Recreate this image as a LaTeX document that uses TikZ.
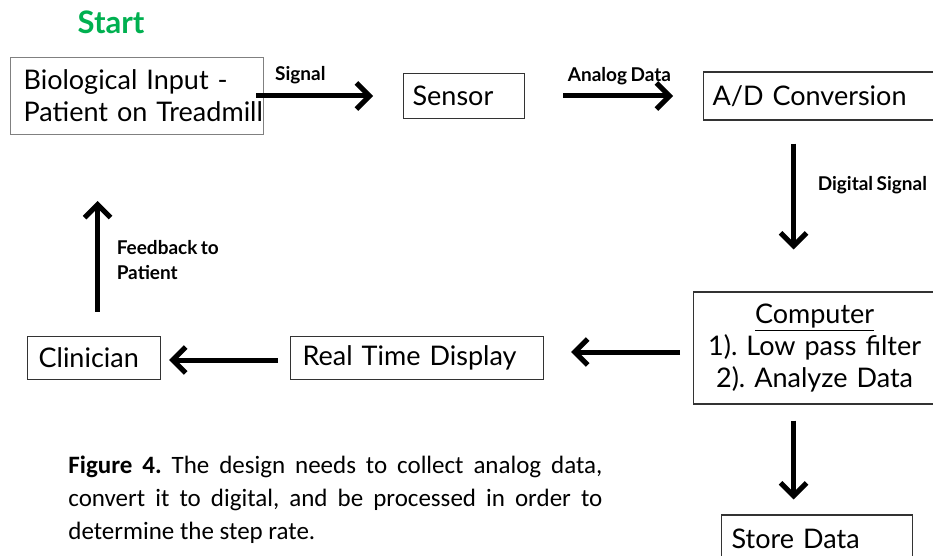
\documentclass[tikz,border=0pt]{standalone}
\usepackage{fontspec}
\setmainfont{Lato}[WordSpace=0.75]
\newfontfamily\capfont{Carlito}
\usetikzlibrary{arrows.meta,positioning}
\definecolor{startgreen}{RGB}{0,176,80}

\begin{document}
\begin{tikzpicture}[x=0.5pt,y=-0.5pt,
  box/.style={draw=black!80,line width=0.6pt,anchor=west,align=left,
    inner ysep=0pt,font=\fontsize{13.5}{16}\selectfont\frenchspacing},
  flow/.style={line width=2.5pt,-{Straight Barb[length=6.5pt,width=13pt]}},
  lbl/.style={font=\bfseries\fontsize{9.5}{12.5}\selectfont}]

  \useasboundingbox (0,0) rectangle (933,556);
  \clip (0,0) rectangle (933,556);

  %% title
  \node[font=\bfseries\fontsize{15.5}{17}\selectfont,text=startgreen] (start) at (111,22) {Start};

  %% top row
  \node[box,draw=gray,inner xsep=6.5pt,text width=113.5pt,minimum height=38.5pt]
    (bio) at (10,96) {Biological Input -\\\mbox{Patient on Treadmill}};
  \node[box,inner xsep=4.5pt,text width=51.5pt,minimum height=22.5pt]
    (sensor) at (403,96) {Sensor};
  \node[box,inner xsep=4.5pt,text width=111pt,minimum height=24pt]
    (adc) at (703,96) {A/D Conversion};

  %% right column
  \node[box,align=center,inner xsep=4.5pt,text width=112pt,minimum height=56pt]
    (comp) at (693,348) {\underline{Computer}\\1). Low pass filter\\2). Analyze Data};
  \node[box,inner xsep=5pt,text width=85.5pt,minimum height=24pt]
    (store) at (721,539) {Store Data};

  %% bottom row
  \node[box,inner xsep=6pt,text width=114.5pt,minimum height=21.5pt]
    (rtd) at (290,358) {Real Time Display};
  \node[box,inner xsep=5.5pt,text width=55.5pt,minimum height=21.5pt]
    (clin) at (27,358) {Clinician};

  %% connectors
  \draw[flow,shorten <=-4pt,shorten >=15pt] (bio.east) -- node[lbl,pos=0.26,yshift=10.5pt] {Signal} (sensor.west);
  \draw[flow,shorten <=19pt,shorten >=15pt] (sensor.east) -- node[lbl,pos=0.53,yshift=10pt] {Analog Data} (adc.west);
  \draw[flow,shorten <=11.5pt,shorten >=21pt] ([xshift=-15pt]adc.south) --
    node[lbl,pos=0.38,anchor=west,xshift=7.5pt] {Digital Signal} ([xshift=-10.5pt]comp.north);
  \draw[flow,shorten <=8pt,shorten >=7.5pt] ([xshift=-10.5pt]comp.south) -- ([xshift=-11.75pt]store.north);
  \draw[flow,shorten <=6.5pt,shorten >=13.5pt] ([yshift=-2pt]comp.west) -- ([yshift=3pt]rtd.east);
  \draw[flow,shorten <=6pt,shorten >=4pt] ([yshift=-1pt]rtd.west) -- ([yshift=-1pt]clin.east);
  \draw[flow,shorten <=12pt,shorten >=33pt] ([xshift=1.75pt]clin.north) --
    node[lbl,pos=0.38,anchor=west,xshift=5pt,align=left] {Feedback to\\Patient} ([xshift=1.75pt]clin.north |- bio.south);

  %% caption
  \node[anchor=north west,inner sep=0pt,text width=267pt,align=justify,
    font=\capfont\fontsize{12.5}{16.5}\selectfont\frenchspacing] (cap) at (68,456)
    {\textbf{Figure 4.} The design needs to collect analog data,\linebreak
     convert it to digital, and be processed in order to\linebreak
     determine the step rate.};
\end{tikzpicture}
\end{document}
